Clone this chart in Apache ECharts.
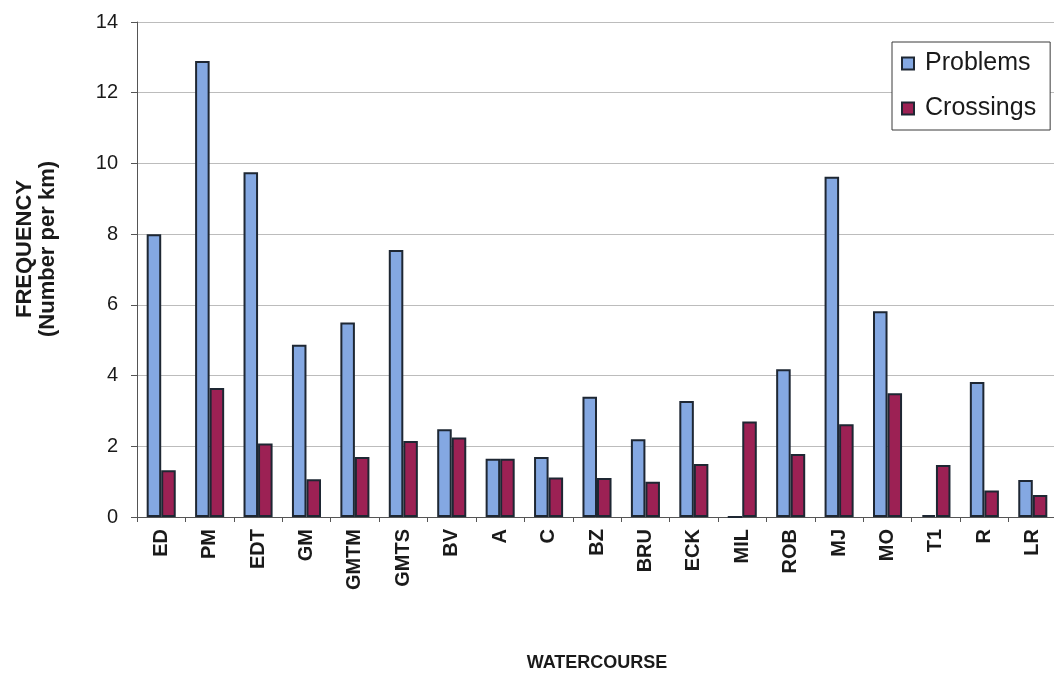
<!DOCTYPE html>
<html>
<head>
<meta charset="utf-8">
<script src="https://cdn.jsdelivr.net/npm/echarts@6/dist/echarts.min.js"></script>
<style>
  html, body { margin: 0; padding: 0; background: #fff; }
  #chart { width: 1054px; height: 675px; }
</style>
</head>
<body>
<div id="chart"></div>
<script>
// Watercourses along the x axis
const watercourses = ['ED', 'PM', 'EDT', 'GM', 'GMTM', 'GMTS', 'BV', 'A', 'C', 'BZ',
  'BRU', 'ECK', 'MIL', 'ROB', 'MJ', 'MO', 'T1', 'R', 'LR'];

// Frequency (number per km) for each watercourse
const problems = [8.0, 12.9, 9.75, 4.87, 5.5, 7.55, 2.48, 1.65, 1.7, 3.4,
  2.2, 3.28, 0, 4.18, 9.62, 5.82, 0.05, 3.82, 1.05];
const crossings = [1.32, 3.65, 2.08, 1.07, 1.7, 2.15, 2.25, 1.65, 1.12, 1.1,
  1.0, 1.5, 2.7, 1.78, 2.62, 3.5, 1.47, 0.75, 0.62];

const FONT = '"Liberation Sans", Arial, sans-serif';
const EDGE = '#1e2733';

const chart = echarts.init(document.getElementById('chart'), null, { renderer: 'canvas' });

chart.setOption({
  animation: false,
  backgroundColor: '#ffffff',
  textStyle: { fontFamily: FONT },
  grid: {
    left: 137, top: 22, width: 920, height: 495,
    containLabel: false,
    outerBoundsMode: 'none'
  },
  legend: {
    orient: 'vertical',
    left: 892,
    top: 42,
    backgroundColor: '#ffffff',
    borderColor: '#3a3a3a',
    borderWidth: 1,
    padding: [9, 14, 9, 9],
    itemGap: 20,
    itemWidth: 12,
    itemHeight: 12,
    icon: 'rect',
    textStyle: { fontFamily: FONT, fontSize: 25, color: '#1a1a1a', padding: [0, 0, 0, 6] },
    data: ['Problems', 'Crossings']
  },
  xAxis: {
    type: 'category',
    data: watercourses,
    name: 'WATERCOURSE',
    nameLocation: 'middle',
    nameGap: 137,
    nameTextStyle: { fontFamily: FONT, fontSize: 18, fontWeight: 'bold', color: '#1a1a1a' },
    axisLine: { show: true, lineStyle: { color: '#555', width: 1 } },
    axisTick: { show: true, length: 5, alignWithLabel: false, lineStyle: { color: '#555' } },
    axisLabel: {
      rotate: 90,
      margin: 12,
      interval: 0,
      fontFamily: FONT,
      fontSize: 20,
      fontWeight: 'bold',
      color: '#1a1a1a'
    },
    splitLine: { show: false }
  },
  yAxis: {
    type: 'value',
    min: 0,
    max: 14,
    interval: 2,
    axisLine: { show: true, lineStyle: { color: '#555', width: 1 } },
    axisTick: { show: true, length: 6, inside: false, lineStyle: { color: '#555' } },
    axisLabel: { margin: 19, fontFamily: FONT, fontSize: 20, color: '#1a1a1a' },
    splitLine: { show: true, lineStyle: { color: '#bcbcbc', width: 1 } }
  },
  graphic: [{
    type: 'text',
    x: 36,
    y: 249,
    rotation: Math.PI / 2,
    style: {
      text: 'FREQUENCY\n(Number per km)',
      font: 'bold 22px ' + FONT,
      fill: '#1a1a1a',
      align: 'center',
      verticalAlign: 'middle',
      lineHeight: 23
    }
  }],
  series: [
    {
      name: 'Problems',
      type: 'bar',
      data: problems,
      barGap: '0%',
      barCategoryGap: '40%',
      itemStyle: { color: '#84a8e2', borderColor: EDGE, borderWidth: 2 }
    },
    {
      name: 'Crossings',
      type: 'bar',
      data: crossings,
      barGap: '0%',
      barCategoryGap: '40%',
      itemStyle: { color: '#9c2154', borderColor: EDGE, borderWidth: 2 }
    }
  ]
});
</script>
</body>
</html>
